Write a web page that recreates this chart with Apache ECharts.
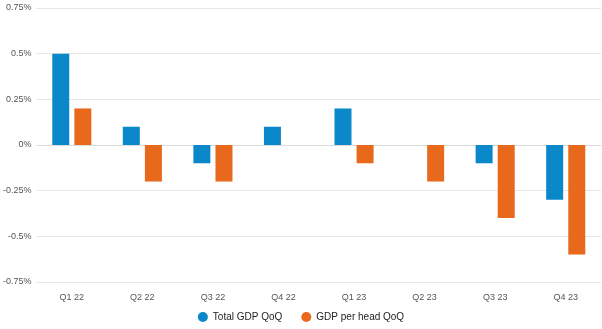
<!DOCTYPE html>
<html><head><meta charset="utf-8">
<script src="https://cdn.jsdelivr.net/npm/echarts@6/dist/echarts.min.js"></script>
<style>html,body{margin:0;padding:0;background:#fff}#c{width:602px;height:329px}</style>
</head><body><div id="c"></div>
<script>
const categories = ['Q1 22','Q2 22','Q3 22','Q4 22','Q1 23','Q2 23','Q3 23','Q4 23'];
const totalGdp = [0.5, 0.1, -0.1, 0.1, 0.2, 0, -0.1, -0.3];
const gdpPerHead = [0.2, -0.2, -0.2, 0, -0.1, -0.2, -0.4, -0.6];
const seriesNames = ['Total GDP QoQ', 'GDP per head QoQ'];
const chart = echarts.init(document.getElementById('c'));
function fmt(v){ return (Math.round(v*100)/100) + '%'; }
chart.setOption({
  animation:false,
  grid:{left:35,right:1,top:8,bottom:47},
  legend:{top:307,left:'center',itemWidth:10,itemHeight:10,icon:'circle',itemGap:19,
    textStyle:{fontFamily:'Liberation Sans, Arial',fontSize:10,color:'#222',padding:[0,0,0,0]}},
  xAxis:{type:'category',data:categories,
    axisLine:{lineStyle:{color:'#dcdcdc',width:1}},axisTick:{show:false},
    axisLabel:{color:'#555',fontSize:9,fontFamily:'Liberation Sans, Arial',margin:11}},
  yAxis:{type:'value',min:-0.75,max:0.75,interval:0.25,
    axisLabel:{formatter:fmt,color:'#555',fontSize:9,fontFamily:'Liberation Sans, Arial',margin:5},
    splitLine:{lineStyle:{color:'#e6e6e6',width:1}},axisLine:{show:false},axisTick:{show:false}},
  series:[
    {name:seriesNames[0],type:'bar',data:totalGdp,barWidth:17,barGap:'30%',
     itemStyle:{color:'#0a88c9'}},
    {name:seriesNames[1],type:'bar',data:gdpPerHead,barWidth:17,
     itemStyle:{color:'#e8691b'}}
  ]
});
</script></body></html>
